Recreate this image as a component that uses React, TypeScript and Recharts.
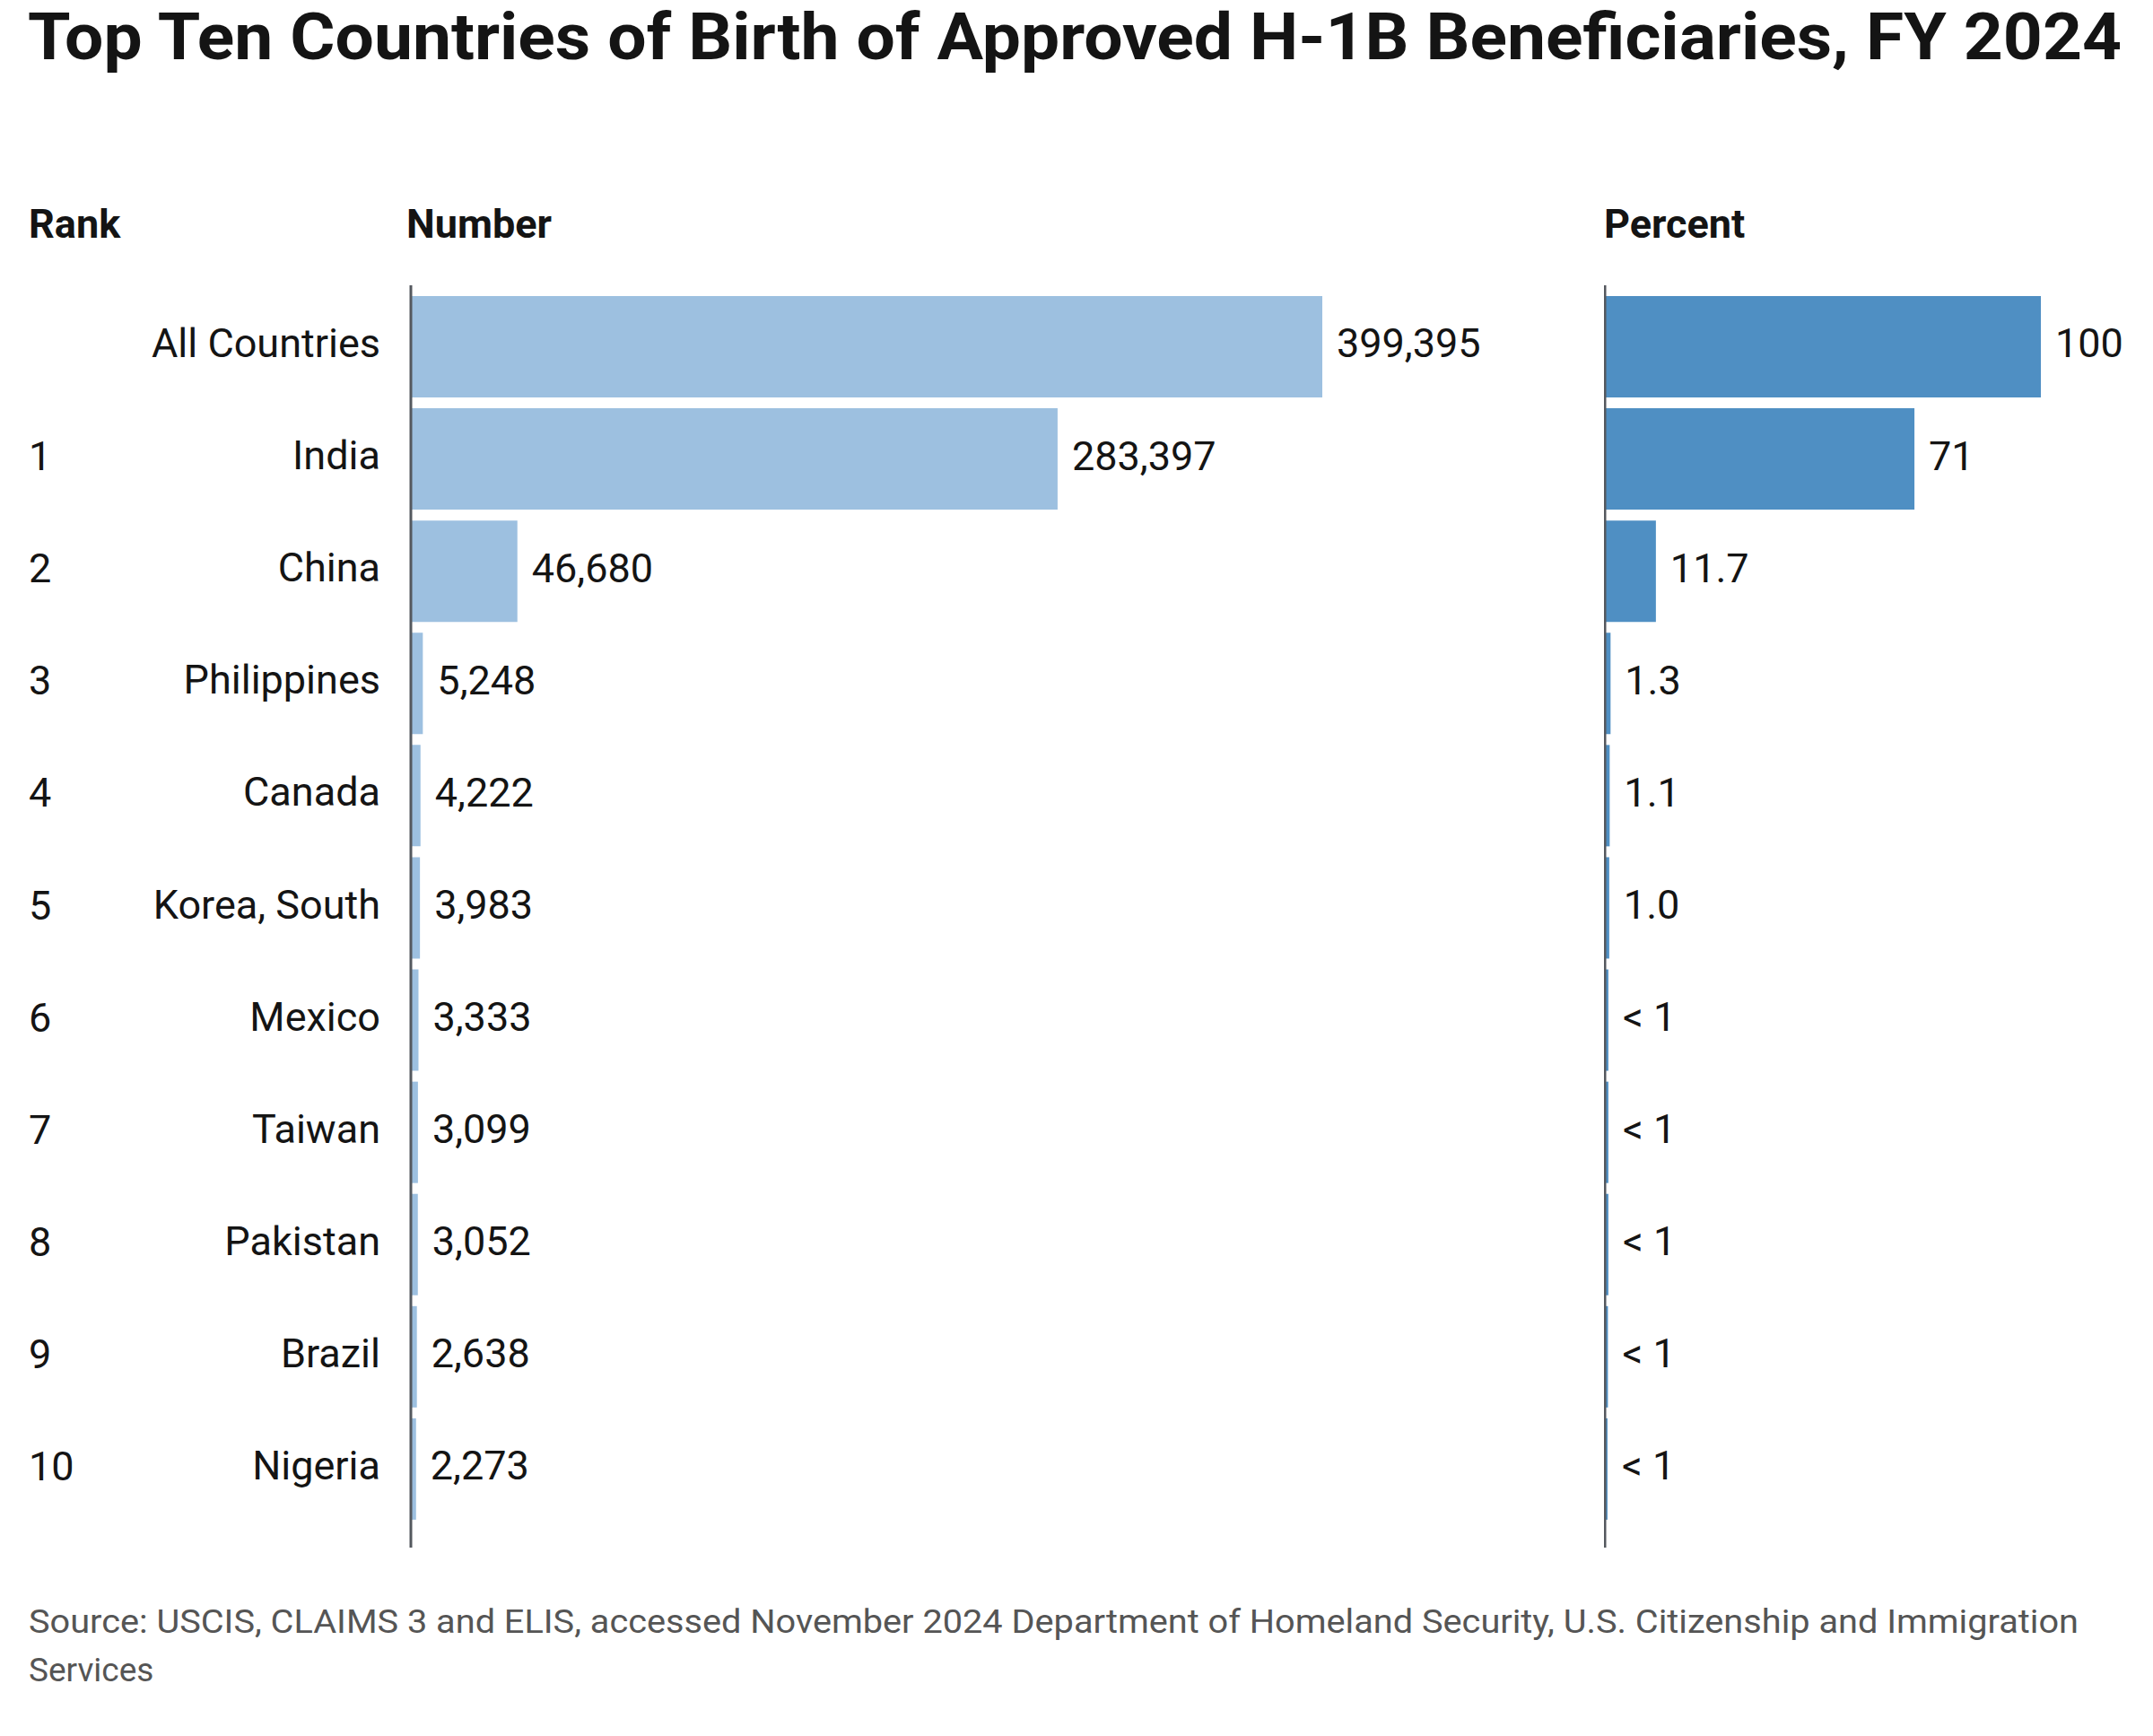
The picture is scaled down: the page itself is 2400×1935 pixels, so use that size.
import React from 'react';
import { BarChart, Bar, XAxis, YAxis, LabelList } from 'recharts';

const countries = [
  'All Countries',
  'India',
  'China',
  'Philippines',
  'Canada',
  'Korea, South',
  'Mexico',
  'Taiwan',
  'Pakistan',
  'Brazil',
  'Nigeria',
];
const ranks = ['', '1', '2', '3', '4', '5', '6', '7', '8', '9', '10'];
const beneficiaries = [399395, 283397, 46680, 5248, 4222, 3983, 3333, 3099, 3052, 2638, 2273];
const percentShares = [100, 71, 11.7, 1.3, 1.1, 1.0, 0.8, 0.8, 0.8, 0.7, 0.6];
const percentLabels = ['100', '71', '11.7', '1.3', '1.1', '1.0', '< 1', '< 1', '< 1', '< 1', '< 1'];

const rows = countries.map((name, i) => ({
  name,
  rank: ranks[i],
  count: beneficiaries[i],
  share: percentShares[i],
  shareLabel: percentLabels[i],
}));

const FONT = 'Roboto, "Liberation Sans", sans-serif';
const INK = '#141414';
const AXIS = '#54585e';
const PLOT_TOP = 318;
const PLOT_HEIGHT = 1407;
const BAND_PADDING = { top: 6, bottom: 25 };

function CountryTick(props: any) {
  const { y, payload } = props;
  const i = countries.indexOf(payload.value);
  return (
    <g>
      <text x={32} y={y} dy={-3} dominantBaseline="central" fontFamily={FONT} fontSize={45} fill={INK}>
        {ranks[i]}
      </text>
      <text x={424} y={y} dy={-4} textAnchor="end" dominantBaseline="central" fontFamily={FONT} fontSize={45} fill={INK}>
        {payload.value}
      </text>
    </g>
  );
}

const labelStyle = { fontFamily: FONT, fontSize: 45, fill: INK };

export default function App() {
  return (
    <div style={{ position: 'absolute', left: 0, top: 0, width: 2400, height: 1935, background: '#fff', fontFamily: FONT }}>
      <svg width={2400} height={1935} style={{ position: 'absolute', left: 0, top: 0 }}>
        <text x={31} y={66} fontFamily={FONT} fontWeight={700} fontSize={72} fill={INK} textLength={2334} lengthAdjust="spacingAndGlyphs">
          Top Ten Countries of Birth of Approved H-1B Beneficiaries, FY 2024
        </text>
        <text x={32} y={265} fontFamily={FONT} fontWeight={700} fontSize={45} fill={INK}>Rank</text>
        <text x={453} y={265} fontFamily={FONT} fontWeight={700} fontSize={45} fill={INK}>Number</text>
        <text x={1788} y={265} fontFamily={FONT} fontWeight={700} fontSize={45} fill={INK}>Percent</text>
        <text x={32} y={1820} fontFamily={FONT} fontSize={37} fill="#555" textLength={2285} lengthAdjust="spacingAndGlyphs">
          Source: USCIS, CLAIMS 3 and ELIS, accessed November 2024 Department of Homeland Security, U.S. Citizenship and Immigration
        </text>
        <text x={32} y={1874} fontFamily={FONT} fontSize={37} fill="#555">Services</text>
      </svg>

      {/* Number of approved beneficiaries */}
      <div style={{ position: 'absolute', left: 0, top: PLOT_TOP }}>
        <BarChart
          layout="vertical"
          width={1700}
          height={PLOT_HEIGHT}
          data={rows}
          margin={{ top: 0, right: 226, bottom: 0, left: 0 }}
          barSize={113}
        >
          <XAxis type="number" domain={[0, 399395]} hide />
          <YAxis
            type="category"
            dataKey="name"
            width={458}
            padding={BAND_PADDING}
            interval={0}
            axisLine={{ stroke: AXIS, strokeWidth: 3 }}
            tickLine={false}
            tick={<CountryTick />}
          />
          <Bar dataKey="count" fill="#9dc0e0" isAnimationActive={false}>
            <LabelList
              dataKey="count"
              position="right"
              offset={16}
              dy={-4}
              formatter={(v: any) => Number(v).toLocaleString('en-US')}
              style={labelStyle}
            />
          </Bar>
        </BarChart>
      </div>

      {/* Share of all approvals */}
      <div style={{ position: 'absolute', left: 1788, top: PLOT_TOP }}>
        <BarChart
          layout="vertical"
          width={600}
          height={PLOT_HEIGHT}
          data={rows}
          margin={{ top: 0, right: 113, bottom: 0, left: 0 }}
          barSize={113}
        >
          <XAxis type="number" domain={[0, 100]} hide />
          <YAxis
            type="category"
            dataKey="name"
            width={1}
            padding={BAND_PADDING}
            interval={0}
            axisLine={{ stroke: AXIS, strokeWidth: 3 }}
            tickLine={false}
            tick={false}
          />
          <Bar dataKey="share" fill="#4f8fc3" isAnimationActive={false}>
            <LabelList dataKey="shareLabel" position="right" offset={16} dy={-4} style={labelStyle} />
          </Bar>
        </BarChart>
      </div>
    </div>
  );
}
